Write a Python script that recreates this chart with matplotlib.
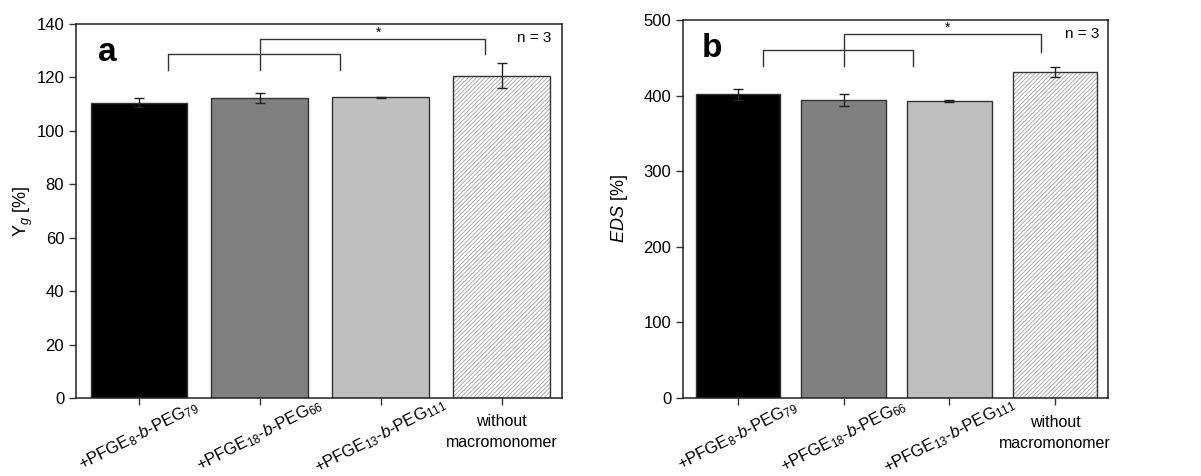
import matplotlib
matplotlib.use("Agg")
from matplotlib import pyplot as plt
from matplotlib import transforms

plt.rcParams["font.family"] = "Liberation Sans"
plt.rcParams["mathtext.fontset"] = "custom"
plt.rcParams["mathtext.rm"] = "Liberation Sans"
plt.rcParams["mathtext.it"] = "Liberation Sans:italic"
plt.rcParams["mathtext.bf"] = "Liberation Sans:bold"
plt.rcParams["hatch.linewidth"] = 0.6

# data
samples = [
    "+PFGE$_8$-$\\mathit{b}$-PEG$_{79}$",
    "+PFGE$_{18}$-$\\mathit{b}$-PEG$_{66}$",
    "+PFGE$_{13}$-$\\mathit{b}$-PEG$_{111}$",
    "without\nmacromonomer",
]
yield_g = [110.5, 112.3, 112.5, 120.7]
yield_g_err = [1.7, 1.8, 0.3, 4.8]
eds = [401.7, 394.2, 392.9, 431.6]
eds_err = [7.5, 7.5, 1.0, 6.5]

bar_colors = ["#000000", "#808080", "#bfbfbf", "white"]


def draw_panel(ax, values, errors, ylim, ystep, ylabel, letter, brackets, star_y):
    x = list(range(len(values)))
    for i, v in enumerate(values):
        if i == 3:
            ax.bar(i, v, width=0.8, color="white", edgecolor="#a0a0a0",
                   hatch="////////", linewidth=0, zorder=2)
            ax.bar(i, v, width=0.8, fill=False, edgecolor="#333333",
                   linewidth=1.0, zorder=3)
        else:
            ax.bar(i, v, width=0.8, color=bar_colors[i], edgecolor="#333333",
                   linewidth=1.0, zorder=2)
    ax.errorbar(x, values, yerr=errors, fmt="none", ecolor="#222222",
                elinewidth=1.0, capsize=3.5, capthick=1.0, zorder=4)

    # significance brackets: (x_left, x_right, y_top, y_left_end, y_right_end)
    for x0, x1, yt, yl, yr in brackets:
        ax.plot([x0, x0, x1, x1], [yl, yt, yt, yr], color="#333333",
                linewidth=1.0, zorder=5, clip_on=False)
    ax.text(1.98, star_y, "*", ha="center", va="center", fontsize=10)

    ax.set_xlim(-0.52, 3.5)
    ax.set_ylim(*ylim)
    ax.set_yticks(range(ylim[0], ylim[1] + 1, ystep))
    ax.set_xticks(x)
    ax.set_xticklabels([])

    # category labels placed by hand so the slanted ones stay inside the figure
    trans = transforms.blended_transform_factory(ax.transData, ax.transAxes)
    for i, lab in enumerate(samples):
        if i < 3:
            ax.text(i, -0.1, lab, transform=trans, rotation=27, fontsize=12,
                    ha="center", va="center")
        else:
            ax.text(i, -0.092, lab, transform=trans, fontsize=11.5,
                    ha="center", va="center", linespacing=1.5)

    ax.tick_params(axis="both", labelsize=12, direction="out", length=5,
                   width=1.0, color="#333333")
    for s in ax.spines.values():
        s.set_linewidth(1.1)
        s.set_color("#222222")
    ax.set_ylabel(ylabel, fontsize=13)
    ax.text(0.045, 0.925, letter, transform=ax.transAxes, fontsize=24,
            fontweight="bold", ha="left", va="center")
    ax.text(0.979, 0.963, "n = 3", transform=ax.transAxes, fontsize=11,
            ha="right", va="center")


fig = plt.figure(figsize=(12.01, 4.76), dpi=100)
ax_a = fig.add_axes([0.0633, 0.1639, 0.4046, 0.7857])
ax_b = fig.add_axes([0.5687, 0.1639, 0.3539, 0.7941])

draw_panel(ax_a, yield_g, yield_g_err, (0, 140), 20, "Y$_\\mathit{g}$ [%]", "a",
           [(0.24, 1.66, 128.8, 122.8, 122.8), (1.0, 2.86, 134.4, 122.8, 128.8)],
           136.8)
draw_panel(ax_b, eds, eds_err, (0, 500), 100, "$\\mathit{EDS}$ [%]", "b",
           [(0.24, 1.66, 459.9, 438.5, 438.5), (1.0, 2.87, 481.9, 438.5, 458.0)],
           490.0)

ax_a.yaxis.set_label_coords(-0.085, 0.5)
ax_b.yaxis.set_label_coords(-0.125, 0.5)

fig.savefig("out.png", dpi=100)
